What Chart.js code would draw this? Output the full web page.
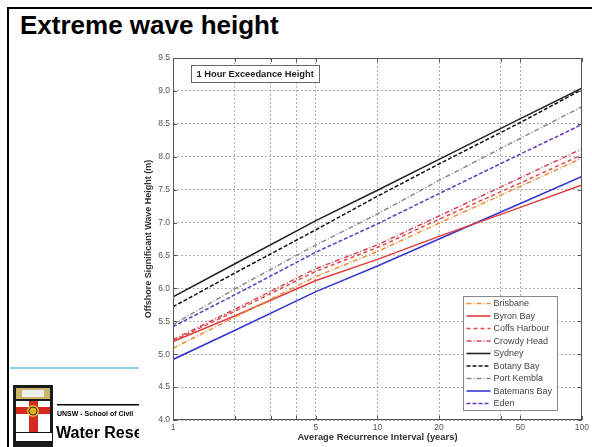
<!DOCTYPE html>
<html><head><meta charset="utf-8">
<script src="https://cdn.jsdelivr.net/npm/chart.js@4/dist/chart.umd.min.js"></script>
<style>
html,body{margin:0;padding:0;background:#fff;width:592px;height:447px;overflow:hidden;font-family:"Liberation Sans",Arial,sans-serif;}
#frameTop{position:absolute;left:7px;top:7px;width:585px;height:2px;background:#000;z-index:5;}
#frameLeft{position:absolute;left:7px;top:7px;width:2px;height:440px;background:#000;z-index:5;}
#title{position:absolute;left:20px;top:13px;font-size:26px;line-height:25px;font-weight:bold;color:#000;white-space:nowrap;}
#blueLine{position:absolute;left:10px;top:367px;width:130px;height:2px;background:#8fd0ec;}
#logo{position:absolute;left:0;top:380px;}
#wrap{position:absolute;left:139px;top:45px;width:453px;height:402px;background:#fff;}
</style></head>
<body>
<div id="frameTop"></div><div id="frameLeft"></div>
<div id="title">Extreme wave height</div>
<div id="blueLine"></div>
<canvas id="logo" width="140" height="67"></canvas>
<div id="wrap"><canvas id="c" width="453" height="402"></canvas></div>
<script>
// ---- data ----
const intervals = [1, 2, 5, 10, 20, 50, 100];
const brisbane     = [5.09, 5.56, 6.18, 6.56, 6.99, 7.55, 7.98];
const byronBay     = [5.19, 5.58, 6.12, 6.44, 6.79, 7.23, 7.57];
const coffsHarbour = [5.20, 5.65, 6.26, 6.62, 7.05, 7.60, 8.03];
const crowdyHead   = [5.22, 5.68, 6.30, 6.66, 7.10, 7.68, 8.12];
const sydney       = [5.87, 6.37, 7.03, 7.49, 7.96, 8.58, 9.04];
const botanyBay    = [5.72, 6.23, 6.89, 7.40, 7.89, 8.52, 9.02];
const portKembla   = [5.45, 5.99, 6.66, 7.13, 7.64, 8.28, 8.76];
const batemansBay  = [4.92, 5.36, 5.95, 6.34, 6.75, 7.29, 7.70];
const eden         = [5.42, 5.90, 6.55, 6.98, 7.44, 8.04, 8.49];
const siteNames = ['Brisbane','Byron Bay','Coffs Harbour','Crowdy Head','Sydney','Botany Bay','Port Kembla','Batemans Bay','Eden'];
const xTickValues = [1, 2, 3, 4, 5, 10, 20, 40, 50, 100];
const xTickLabels = [1, 5, 10, 20, 50, 100];
const yTickValues = [4.0, 4.5, 5.0, 5.5, 6.0, 6.5, 7.0, 7.5, 8.0, 8.5, 9.0, 9.5];
const annotationText = '1 Hour Exceedance Height';

// ---- logo (decorative) ----
(function(){
  const g = document.getElementById('logo').getContext('2d');
  g.fillStyle='#1a1a1a'; g.fillRect(13,5,40,62);
  g.fillStyle='#c9b46a'; g.fillRect(16,8,34,11);
  g.fillStyle='#eee'; g.fillRect(22,10,22,7);
  g.fillStyle='#fff'; g.fillRect(16,21,34,31);
  g.fillStyle='#d42a1f'; g.fillRect(29,21,9,31); g.fillRect(16,27,34,7);
  g.fillStyle='#e0b020'; g.beginPath(); g.arc(33,31,6,0,Math.PI*2); g.fill();
  g.strokeStyle='#333'; g.lineWidth=1; g.beginPath(); g.arc(33,31,4,0,Math.PI*2); g.stroke();
  g.fillStyle='#fff'; g.fillRect(15,52,38,10);
  g.strokeStyle='#111'; g.strokeRect(15.5,52.5,37,9);
  g.fillStyle='#000'; g.fillRect(57,24,83,1.5);
  g.font='bold 7px "Liberation Sans", Arial'; g.fillText('UNSW - School of Civil', 57, 36);
  g.font='bold 16px "Liberation Sans", Arial'; g.fillText('Water Research', 56, 58);
})();

// ---- chart ----
const FONT = '"Liberation Sans", Arial, sans-serif';
const seriesList = [brisbane, byronBay, coffsHarbour, crowdyHead, sydney, botanyBay, portKembla, batemansBay, eden];
const styles = [
  {c:'#ee8f3a', d:[5,2,1,2]},
  {c:'#e03c3c', d:[]},
  {c:'#e24a4a', d:[4,3]},
  {c:'#d4465a', d:[5,2,1,2]},
  {c:'#222222', d:[]},
  {c:'#111111', d:[4,2]},
  {c:'#8a8a8a', d:[5,2,1,2]},
  {c:'#3535d2', d:[]},
  {c:'#6438c8', d:[4,2]}
];
const datasets = seriesList.map((s,i)=>({
  label: siteNames[i],
  data: intervals.map((x,j)=>({x:x, y:s[j]})),
  borderColor: styles[i].c,
  borderDash: styles[i].d,
  borderWidth: 1.5,
  pointRadius: 0,
  fill: false,
  tension: 0
}));

const framePlugin = {
  id:'frame',
  afterDatasetsDraw(chart){
    const ctx = chart.ctx;
    const {left,right,top,bottom} = chart.chartArea;
    const xs = chart.scales.x, ys = chart.scales.y;
    ctx.save();
    ctx.setLineDash([]);
    ctx.strokeStyle = '#555'; ctx.lineWidth = 1;
    ctx.strokeRect(Math.round(left)+0.5, Math.round(top)+0.5, Math.round(right-left)-1, Math.round(bottom-top)-1);
    ctx.beginPath();
    xTickValues.forEach(v=>{
      const p = Math.round(xs.getPixelForValue(v))+0.5;
      ctx.moveTo(p,bottom); ctx.lineTo(p,bottom-4);
      ctx.moveTo(p,top); ctx.lineTo(p,top+4);
    });
    yTickValues.forEach(v=>{
      const p = Math.round(ys.getPixelForValue(v))+0.5;
      ctx.moveTo(left,p); ctx.lineTo(left+4,p);
      ctx.moveTo(right,p); ctx.lineTo(right-4,p);
    });
    ctx.stroke();
    // annotation box
    const bx = Math.round(left)+18.5, by = Math.round(top)+7.5, bw = 128, bh = 17;
    ctx.fillStyle='#fff'; ctx.fillRect(bx,by,bw,bh);
    ctx.strokeStyle='#666'; ctx.strokeRect(bx,by,bw,bh);
    ctx.fillStyle='#222'; ctx.font='bold 9.3px '+FONT; ctx.textBaseline='middle'; ctx.textAlign='left';
    ctx.fillText(annotationText, bx+5, by+bh/2+0.5);
    // legend
    const lw = 94, lh = 114;
    const lx = Math.round(right)-25-lw+0.5, ly = Math.round(bottom)-10-lh+0.5;
    ctx.fillStyle='#fff'; ctx.fillRect(lx,ly,lw,lh);
    ctx.strokeStyle='#888'; ctx.strokeRect(lx,ly,lw,lh);
    ctx.font='9px '+FONT;
    chart.data.datasets.forEach((ds,i)=>{
      const yy = ly + 7 + i*12.5;
      ctx.strokeStyle = ds.borderColor; ctx.lineWidth = 1.6;
      ctx.setLineDash(ds.borderDash);
      ctx.beginPath(); ctx.moveTo(lx+3,yy); ctx.lineTo(lx+27,yy); ctx.stroke();
      ctx.setLineDash([]);
      ctx.fillStyle='#444';
      ctx.fillText(ds.label, lx+30, yy+0.5);
    });
    ctx.restore();
  }
};

new Chart(document.getElementById('c'), {
  type:'line',
  data:{datasets},
  plugins:[framePlugin],
  options:{
    responsive:false, animation:false,
    layout:{padding:{left:0,right:10,top:13,bottom:0}},
    plugins:{legend:{display:false}, tooltip:{enabled:false}},
    scales:{
      x:{
        type:'logarithmic', min:1, max:100,
        afterBuildTicks:(s)=>{ s.ticks = xTickValues.map(v=>({value:v})); },
        afterFit:(s)=>{ s.height = 27; },
        ticks:{autoSkip:false, maxRotation:0, padding:3, color:'#555', font:{size:8.5, family:FONT},
          callback:(v)=> xTickLabels.includes(v) ? String(v) : ''},
        grid:{color:'#9a9a9a', lineWidth:0.8, drawTicks:false},
        border:{display:false, dash:[2,2]},
        title:{display:true, text:'Average Recurrence Interval (years)', color:'#333',
          font:{size:9.4, weight:'bold', family:FONT}, padding:{top:0,bottom:4}}
      },
      y:{
        type:'linear', min:4, max:9.5,
        afterBuildTicks:(s)=>{ s.ticks = yTickValues.map(v=>({value:v})); },
        afterFit:(s)=>{ s.width = 34; },
        ticks:{padding:3, color:'#555', font:{size:8.5, family:FONT}, callback:(v)=>Number(v).toFixed(1)},
        grid:{color:'#9a9a9a', lineWidth:0.8, drawTicks:false},
        border:{display:false, dash:[2,2]},
        title:{display:true, text:'Offshore Significant Wave Height (m)', color:'#333',
          font:{size:9, weight:'bold', family:FONT}, padding:{top:4,bottom:0}}
      }
    }
  }
});
</script>
</body></html>
